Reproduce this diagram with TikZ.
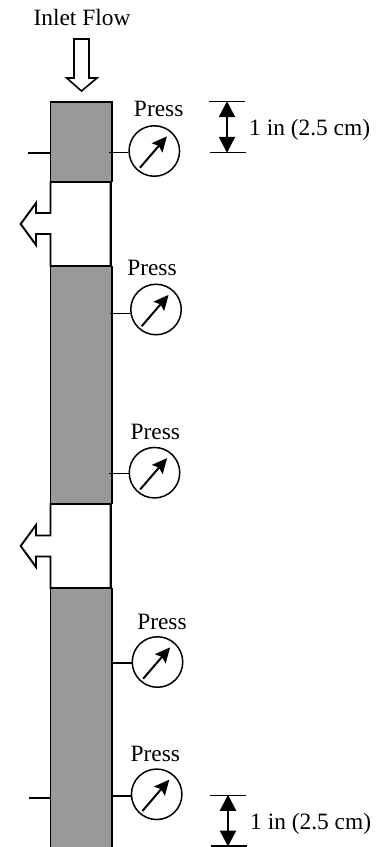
\documentclass[tikz,border=0pt]{standalone}
\usepackage{fontspec}
\setmainfont{Liberation Serif}
\usetikzlibrary{arrows.meta,calc}
\tikzset{
  wall/.style={line width=1.9pt,black,line join=miter},
  gauge/.style={circle,draw=black,line width=1.5pt,fill=white,minimum size=50.5pt,inner sep=0pt},
  needle/.style={line width=2pt,-{Stealth[length=15pt,width=14pt,inset=2.5pt]}},
  lab/.style={anchor=base,inner sep=0pt,font=\fontsize{23.4}{26}\selectfont},
  dimline/.style={line width=1.5pt},
  dimarrow/.style={line width=2.4pt,{Triangle[length=16pt,width=16pt]}-{Triangle[length=16pt,width=16pt]},shorten <=-0.5pt,shorten >=-0.5pt},
  flow/.style={line width=1.6pt,fill=white,line join=miter},
  plug/.style={fill=black!40}
}
\begin{document}
\begin{tikzpicture}[x=1pt,y=-1pt]
\useasboundingbox (0,0) rectangle (385,847);
% column body
\fill[plug] (50.5,102) rectangle (112,847);
% right wall
\draw[wall] (112,102) -- (112,182);
\draw[wall,line width=2.4pt] (110.5,182) -- (110.5,266);
\draw[wall] (112,266) -- (112,504);
\draw[wall,line width=2.4pt] (110.5,504) -- (110.5,588);
\draw[wall] (112,588) -- (112,847);
% openings and left wall with outlet arrows
\draw[wall,fill=white] (50.5,182) -- (110.5,182) -- (110.5,266) -- (50.5,266) -- (50.5,234) -- (36,234) -- (36,245) -- (20.7,224) -- (36,203) -- (36,213) -- (50.5,213) -- cycle;
\draw[wall,fill=white] (50.5,504) -- (110.5,504) -- (110.5,588) -- (50.5,588) -- (50.5,556.5) -- (36,556.5) -- (36,567) -- (20.7,546) -- (36,525) -- (36,535.5) -- (50.5,535.5) -- cycle;
\draw[wall] (50.5,102) -- (50.5,182);
\draw[wall] (50.5,266) -- (50.5,504);
\draw[wall] (50.5,588) -- (50.5,847);
\draw[wall,line width=2pt] (49.6,102) -- (112.9,102);
% inlet arrow
\draw[flow] (74,39) -- (89,39) -- (89,78) -- (97,78) -- (81.5,91) -- (66.7,78) -- (74,78) -- cycle;
\node[lab] (inlet) at (82,25) {Inlet Flow};
% gauges
\node[gauge] (g1) at (154.3,151) {};
\node[gauge] (g2) at (156,309.5) {};
\node[gauge] (g3) at (154.5,472.7) {};
\node[gauge] (g4) at (157.5,662) {};
\node[gauge] (g5) at (156.7,794.3) {};
\foreach \g in {g1,g2,g3,g4,g5}{
  \draw[needle] ($(\g)+(-14.3,16.7)$) -- ($(\g)+(12.6,-14.6)$);
}
\node[lab] (p1) at (158.7,116.7) {Press};
\node[lab] (p2) at (152,275) {Press};
\node[lab] (p3) at (155.3,439) {Press};
\node[lab] (p4) at (162,629) {Press};
\node[lab] (p5) at (155.3,761) {Press};
% gauge taps
\coordinate (t1) at (109,152.5);
\coordinate (t2) at (110,313.5);
\coordinate (t3) at (109,473.7);
\coordinate (t4) at (113,663);
\coordinate (t5) at (111,796);
\draw[dimline] (t1) -- (t1 -| g1.west);
\draw[dimline] (t2) -- (t2 -| g2.west);
\draw[dimline] (t3) -- (t3 -| g3.west);
\draw[dimline] (t4) -- (t4 -| g4.west);
\draw[dimline] (t5) -- (t5 -| g5.west);
% left ticks
\coordinate (l1a) at (28,153);
\coordinate (l1b) at (50,153);
\coordinate (l2a) at (28.5,798);
\coordinate (l2b) at (50,798);
\draw[dimline] (l1a) -- (l1b);
\draw[dimline] (l2a) -- (l2b);
% dimensions
\coordinate (d1a) at (209,101.7);
\coordinate (d1b) at (244.7,101.7);
\coordinate (d1c) at (210,152.3);
\coordinate (d1d) at (246,152.3);
\coordinate (d1t) at (227,101.7);
\coordinate (d1u) at (227,152.3);
\draw[dimline] (d1a) -- (d1b);
\draw[dimline] (d1c) -- (d1d);
\draw[dimarrow] (d1t) -- (d1u);
\node[lab,anchor=base west] (w1) at (249,135) {1 in (2.5 cm)};
\coordinate (d2a) at (209.5,795.3);
\coordinate (d2b) at (245.5,795.3);
\coordinate (d2c) at (211,846);
\coordinate (d2d) at (247,846);
\coordinate (d2t) at (228,795.3);
\coordinate (d2u) at (228,846);
\draw[dimline] (d2a) -- (d2b);
\draw[dimline] (d2c) -- (d2d);
\draw[dimarrow] (d2t) -- (d2u);
\node[lab,anchor=base west] (w2) at (250,829) {1 in (2.5 cm)};
\end{tikzpicture}
\end{document}
